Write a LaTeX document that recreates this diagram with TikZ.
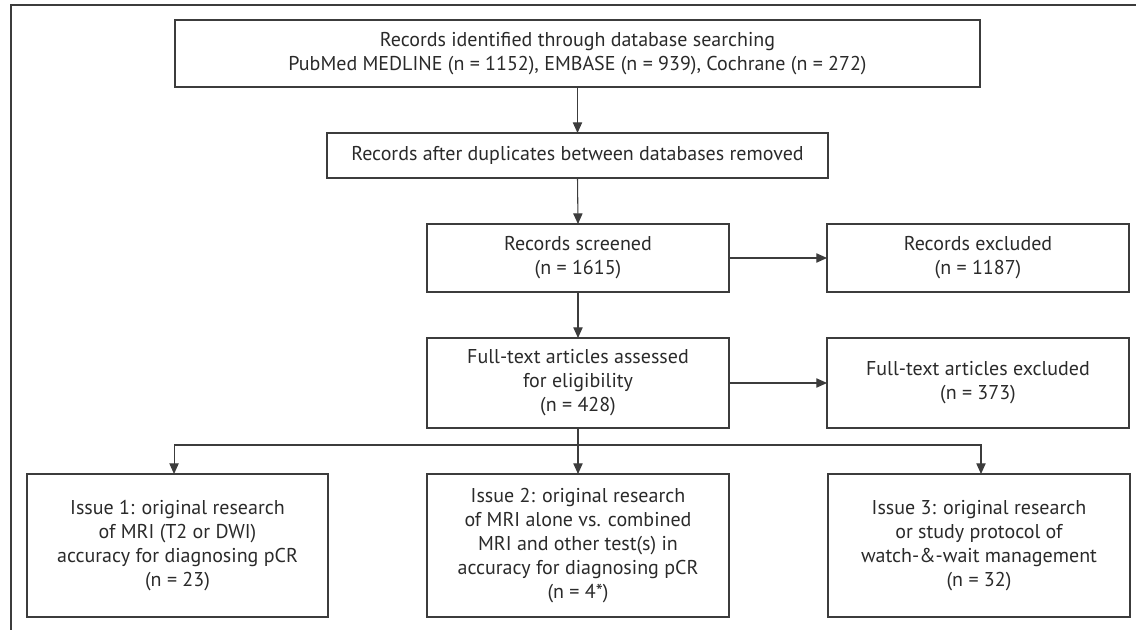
\documentclass[tikz,border=0pt]{standalone}
\usepackage{fontspec}
\setmainfont{PT Sans}
\usetikzlibrary{arrows.meta}
\definecolor{ink}{HTML}{2A2A2A}
\definecolor{linec}{HTML}{3C3C3C}
\tikzset{
  box/.style={draw=linec, line width=0.8pt, rectangle, inner sep=0pt, outer sep=0pt,
    align=center, text=ink, font=\fontsize{15}{18}\selectfont},
  arr/.style={draw=linec, line width=0.8pt, -{Triangle[length=8pt,width=7pt]}},
  ln/.style={draw=linec, line width=0.8pt},
}
\begin{document}
\begin{tikzpicture}[x=0.75pt,y=-0.75pt]
\useasboundingbox (0,0) rectangle (1136,630);
\draw[ln] (11,630) -- (11,5) -- (1136,5);

\node[box, minimum width={805*0.75pt}, minimum height={67*0.75pt}] (b1) at (577.5,53.5)
  {Records identified through database searching\\PubMed MEDLINE (n = 1152), EMBASE (n = 939), Cochrane (n = 272)};
\node[box, minimum width={501*0.75pt}, minimum height={45*0.75pt}] (b2) at (577.5,155.5)
  {Records after duplicates between databases removed};
\node[box, minimum width={302*0.75pt}, minimum height={68*0.75pt}] (b3) at (578,258)
  {Records screened\\(n = 1615)};
\node[box, minimum width={302*0.75pt}, minimum height={68*0.75pt}] (e1) at (978,258)
  {Records excluded\\(n = 1187)};
\node[box, minimum width={302*0.75pt}, minimum height={90*0.75pt}] (b4) at (578,383)
  {Full-text articles assessed\\for eligibility\\(n = 428)};
\node[box, minimum width={302*0.75pt}, minimum height={90*0.75pt}] (e2) at (978,383)
  {Full-text articles excluded\\(n = 373)};
\node[box, minimum width={301*0.75pt}, minimum height={143*0.75pt}] (i1) at (177.5,545.5)
  {Issue 1: original research\\of MRI (T2 or DWI)\\accuracy for diagnosing pCR\\(n = 23)};
\node[box, minimum width={302*0.75pt}, minimum height={143*0.75pt}] (i2) at (578,545.5)
  {Issue 2: original research\\of MRI alone vs. combined\\MRI and other test(s) in\\accuracy for diagnosing pCR\\(n = 4*)};
\node[box, minimum width={302*0.75pt}, minimum height={143*0.75pt}] (i3) at (979,545.5)
  {Issue 3: original research\\or study protocol of\\watch-\&-wait management\\(n = 32)};

\coordinate (br) at (578,445);
\draw[arr] (b1.south) -- (b2.north);
\draw[arr] (b2.south) -- (b3.north);
\draw[arr] (b3.east) -- (e1.west);
\draw[arr] (b3.south) -- (b4.north);
\draw[arr] (b4.east) -- (e2.west);
\draw[ln] (b4.south) -- (br);
\draw[arr] (br) -| ([xshift=-2.6pt]i1.north);
\draw[arr] (br) -- (i2.north);
\draw[arr] (br) -| ([xshift=1.5pt]i3.north);
\end{tikzpicture}
\end{document}
